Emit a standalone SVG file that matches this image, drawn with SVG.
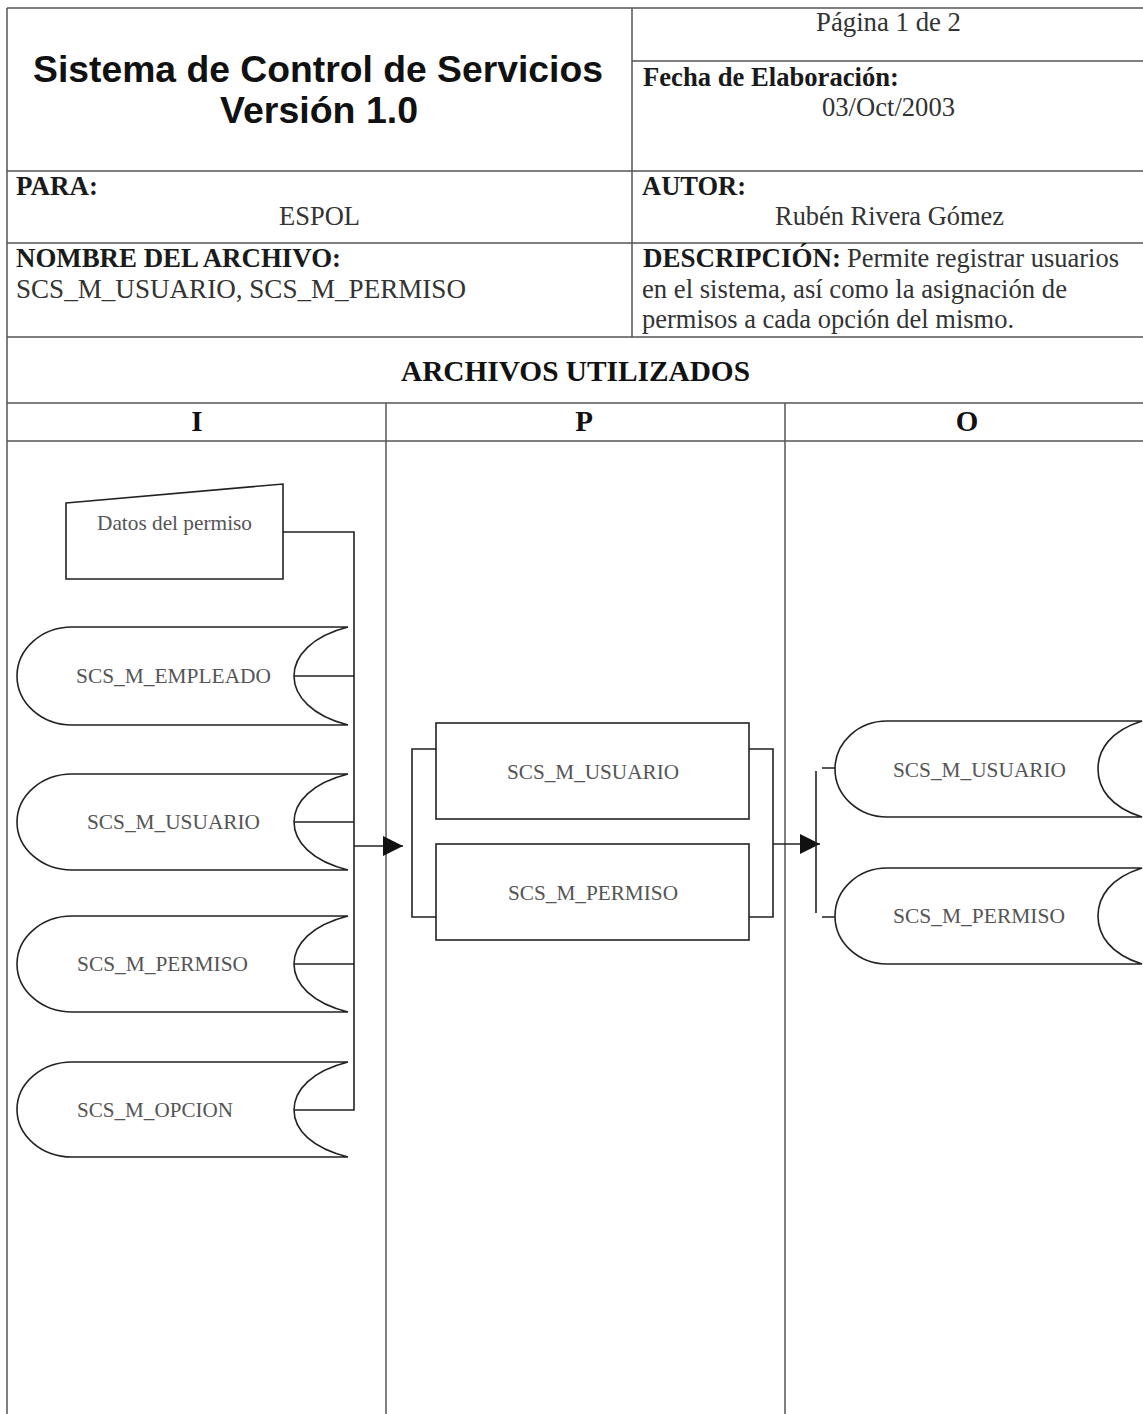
<svg xmlns="http://www.w3.org/2000/svg" width="1143" height="1414" viewBox="0 0 1143 1414">
<defs>
<style>
.grid{stroke:#555;stroke-width:1.5;fill:none}
.shape{stroke:#222;stroke-width:1.6;fill:#fff}
.conn{stroke:#222;stroke-width:1.6;fill:none}
.title{font-family:"Liberation Sans",Arial,sans-serif;font-weight:bold;font-size:37px;fill:#111}
.hb{font-family:"Liberation Serif","Times New Roman",serif;font-weight:bold;font-size:26.5px;fill:#1a1a1a}
.hn{font-family:"Liberation Serif","Times New Roman",serif;font-size:26.5px;fill:#333}
.hbig{font-family:"Liberation Serif","Times New Roman",serif;font-weight:bold;font-size:29px;fill:#111}
.lbl{font-family:"Liberation Serif","Times New Roman",serif;font-size:21.5px;fill:#555}
</style>
<marker id="arr" markerUnits="userSpaceOnUse" markerWidth="20" markerHeight="20" refX="20" refY="10" orient="auto">
<path d="M0,0 L20,10 L0,20 z" fill="#111"/>
</marker>
</defs>
<rect x="0" y="0" width="1143" height="1414" fill="#fff"/>

<g id="header-table">
<path class="grid" d="M7,8 H1143 M7,8 V1414 M632,8 V337 M632,61 H1143 M7,171 H1143 M7,243 H1143 M7,337 H1143 M7,403 H1143 M7,441 H1143 M386,403 V1414 M785,403 V1414"/>
<text class="title" x="33" y="82" textLength="570" lengthAdjust="spacingAndGlyphs">Sistema de Control de Servicios</text>
<text class="title" x="220" y="123" textLength="198" lengthAdjust="spacingAndGlyphs">Versión 1.0</text>
<text class="hn" x="816" y="31" textLength="145" lengthAdjust="spacingAndGlyphs">Página 1 de 2</text>
<text class="hb" x="643" y="86" textLength="256" lengthAdjust="spacingAndGlyphs">Fecha de Elaboración:</text>
<text class="hn" x="822" y="116" textLength="133" lengthAdjust="spacingAndGlyphs">03/Oct/2003</text>
<text class="hb" x="16" y="195" textLength="82" lengthAdjust="spacingAndGlyphs">PARA:</text>
<text class="hn" x="279" y="225" textLength="81" lengthAdjust="spacingAndGlyphs">ESPOL</text>
<text class="hb" x="642" y="195" textLength="104" lengthAdjust="spacingAndGlyphs">AUTOR:</text>
<text class="hn" x="775" y="225" textLength="229" lengthAdjust="spacingAndGlyphs">Rubén Rivera Gómez</text>
<text class="hb" x="16" y="267" textLength="325" lengthAdjust="spacingAndGlyphs">NOMBRE DEL ARCHIVO:</text>
<text class="hn" x="16" y="298" textLength="450" lengthAdjust="spacingAndGlyphs">SCS_M_USUARIO, SCS_M_PERMISO</text>
<text class="hb" x="643" y="267" textLength="198" lengthAdjust="spacingAndGlyphs">DESCRIPCIÓN:</text>
<text class="hn" x="847" y="267" textLength="272" lengthAdjust="spacingAndGlyphs">Permite registrar usuarios</text>
<text class="hn" x="642" y="298" textLength="425" lengthAdjust="spacingAndGlyphs">en el sistema, así como la asignación de</text>
<text class="hn" x="642" y="328" textLength="372" lengthAdjust="spacingAndGlyphs">permisos a cada opción del mismo.</text>
<text class="hbig" x="401" y="381" textLength="349" lengthAdjust="spacingAndGlyphs">ARCHIVOS UTILIZADOS</text>
<text class="hbig" x="197" y="431" text-anchor="middle">I</text>
<text class="hbig" x="584" y="431" text-anchor="middle">P</text>
<text class="hbig" x="967" y="431" text-anchor="middle">O</text>
</g>

<g id="in-datos-permiso">
<polygon class="shape" points="66,503 283,484 283,579 66,579"/>
<text class="lbl" x="97" y="530" textLength="155" lengthAdjust="spacingAndGlyphs">Datos del permiso</text>
</g>
<g id="in-empleado">
<path class="shape" d="M72,627 H348 C312,636 294,656 294,676 C294,696 312,716 348,725 H72 A55,49 0 0 1 72,627 Z"/>
<text class="lbl" x="76" y="683" textLength="195" lengthAdjust="spacingAndGlyphs">SCS_M_EMPLEADO</text>
</g>
<g id="in-usuario">
<path class="shape" d="M72,774 H348 C312,783 294,802 294,822 C294,842 312,861 348,870 H72 A55,48 0 0 1 72,774 Z"/>
<text class="lbl" x="87" y="829" textLength="173" lengthAdjust="spacingAndGlyphs">SCS_M_USUARIO</text>
</g>
<g id="in-permiso">
<path class="shape" d="M72,916 H348 C312,925 294,944 294,964 C294,984 312,1003 348,1012 H72 A55,48 0 0 1 72,916 Z"/>
<text class="lbl" x="77" y="971" textLength="171" lengthAdjust="spacingAndGlyphs">SCS_M_PERMISO</text>
</g>
<g id="in-opcion">
<path class="shape" d="M72,1062 H348 C312,1071 294,1090 294,1110 C294,1130 312,1148 348,1157 H72 A55,47.5 0 0 1 72,1062 Z"/>
<text class="lbl" x="77" y="1117" textLength="156" lengthAdjust="spacingAndGlyphs">SCS_M_OPCION</text>
</g>

<g id="proc-usuario">
<rect class="shape" x="436" y="723" width="313" height="96"/>
<text class="lbl" x="507" y="779" textLength="172" lengthAdjust="spacingAndGlyphs">SCS_M_USUARIO</text>
</g>
<g id="proc-permiso">
<rect class="shape" x="436" y="844" width="313" height="96"/>
<text class="lbl" x="508" y="900" textLength="170" lengthAdjust="spacingAndGlyphs">SCS_M_PERMISO</text>
</g>

<g id="out-usuario">
<path class="shape" d="M887,721 H1142 C1110,731 1098,750 1098,769 C1098,788 1110,807 1142,817 H887 A52,48 0 0 1 887,721 Z"/>
<text class="lbl" x="893" y="777" textLength="173" lengthAdjust="spacingAndGlyphs">SCS_M_USUARIO</text>
</g>
<g id="out-permiso">
<path class="shape" d="M887,868 H1142 C1110,878 1098,897 1098,916 C1098,935 1110,954 1142,964 H887 A52,48 0 0 1 887,868 Z"/>
<text class="lbl" x="893" y="923" textLength="172" lengthAdjust="spacingAndGlyphs">SCS_M_PERMISO</text>
</g>

<g id="connectors">
<path class="conn" d="M283,532 H354 V1110 H294 M294,676 H354 M294,822 H354 M294,964 H354"/>
<line class="conn" x1="354" y1="846" x2="403" y2="846" marker-end="url(#arr)"/>
<path class="conn" d="M436,749 H412 V917 H436"/>
<path class="conn" d="M749,749 H773 V917 H749"/>
<line class="conn" x1="773" y1="844" x2="820" y2="844" marker-end="url(#arr)"/>
<path class="conn" d="M816,771 V913 M822,768 H835 M822,917 H835"/>
</g>
</svg>
